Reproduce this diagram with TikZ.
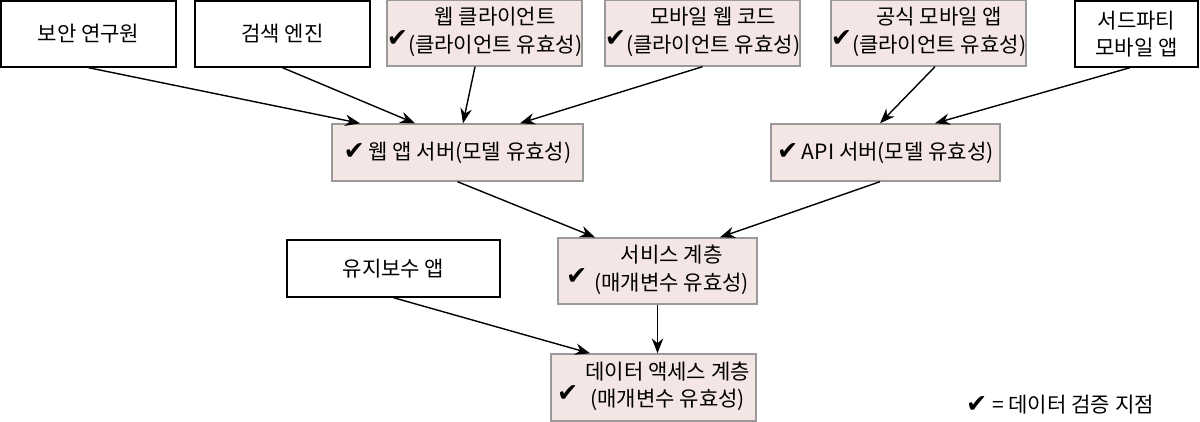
\documentclass[tikz,border=0pt]{standalone}
\usepackage{fontspec}
\setmainfont{Noto Sans CJK KR}
\newfontfamily\chkfont{DejaVu Sans}
\usetikzlibrary{arrows.meta}
\newcommand{\chk}{{\chkfont\Large ✔}}
\newcommand{\lowchk}{\raisebox{-0.75ex}{\chk}}
\definecolor{boxpink}{HTML}{F4E6E4}
\definecolor{boxgray}{HTML}{9A9A9A}
\tikzset{
  actor/.style={draw=black,line width=0.8pt,fill=white,align=center,inner sep=0pt},
  checked/.style={draw=boxgray,line width=0.8pt,fill=boxpink,align=center,inner sep=0pt},
  flow/.style={->,line width=0.8pt}
}
\begin{document}
\begin{tikzpicture}[>={Stealth[length=8.5pt,width=6.5pt]},x=0.02cm,y=-0.02cm,
  font=\fontsize{12}{15.5}\selectfont]
  \useasboundingbox (0,0) rectangle (1200,422);
  % sources
  \node[actor,minimum width=3.5cm,minimum height=1.32cm] (sec) at (88.5,34) {보안 연구원};
  \node[actor,minimum width=3.5cm,minimum height=1.32cm] (srch) at (282.5,34) {검색 엔진};
  \node[checked,minimum width=3.86cm,minimum height=1.32cm] (webc) at (484.5,33)
    {\lowchk\begin{tabular}{@{}c@{}}웹 클라이언트\\(클라이언트 유효성)\end{tabular}};
  \node[checked,minimum width=3.86cm,minimum height=1.32cm] (mweb) at (702.5,33)
    {\lowchk\begin{tabular}{@{}c@{}}모바일 웹 코드\\(클라이언트 유효성)\end{tabular}};
  \node[checked,minimum width=3.82cm,minimum height=1.32cm] (app) at (928.5,33)
    {\lowchk\begin{tabular}{@{}c@{}}공식 모바일 앱\\(클라이언트 유효성)\end{tabular}};
  \node[actor,minimum width=2.46cm,minimum height=1.32cm] (third) at (1136.5,34) {서드파티\\모바일 앱};
  % servers
  \node[checked,minimum width=5.02cm,minimum height=1.14cm] (was) at (457.5,152.5) {\chk\,웹 앱 서버(모델 유효성)};
  \node[checked,minimum width=4.58cm,minimum height=1.14cm] (api) at (885.5,152.5) {\chk\,API 서버(모델 유효성)};
  % layers
  \node[actor,minimum width=4.26cm,minimum height=1.14cm] (maint) at (393.5,268.5) {유지보수 앱};
  \node[checked,minimum width=3.98cm,minimum height=1.32cm] (svc) at (657.5,271)
    {\lowchk\hspace{4pt}\begin{tabular}{@{}c@{}}서비스 계층\\(매개변수 유효성)\end{tabular}};
  \node[checked,minimum width=4.1cm,minimum height=1.34cm] (dal) at (653.5,387.5)
    {\lowchk\hspace{4pt}\begin{tabular}{@{}c@{}}데이터 액세스 계층\\(매개변수 유효성)\end{tabular}};
  \node (key) at (1060,405) {\chk\ = 데이터 검증 지점};
  % connectors
  \draw[flow] (sec.south) -- ([xshift=-1.95cm]was.north);
  \draw[flow] (srch.south) -- ([xshift=-0.85cm]was.north);
  \draw[flow] ([xshift=-0.19cm]webc.south) -- ([xshift=0.11cm]was.north);
  \draw[flow] (mweb.south) -- ([xshift=1.25cm]was.north);
  \draw[flow] ([xshift=0.13cm]app.south) -- ([xshift=-0.11cm]api.north);
  \draw[flow] ([xshift=-0.13cm]third.south) -- ([xshift=0.99cm]api.north);
  \draw[flow] (was.south) -- ([xshift=-1.25cm]svc.north);
  \draw[flow] ([xshift=-0.11cm]api.south) -- ([xshift=1.25cm]svc.north);
  \draw[flow] (maint.south) -- ([xshift=-1.27cm]dal.north);
  \draw[flow] (svc.south) -- (svc.south |- dal.north);
\end{tikzpicture}
\end{document}
